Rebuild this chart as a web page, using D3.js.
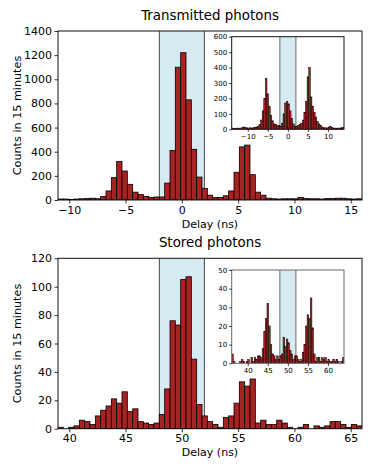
<!DOCTYPE html>
<html>
<head>
<meta charset="utf-8">
<script src="https://cdn.jsdelivr.net/npm/d3@7"></script>
<style>
body { margin: 0; background: #fff; }
svg text { font-family: "DejaVu Sans", sans-serif; fill: #000; }
</style>
</head>
<body>
<div id="chart"></div>
<script>
// histogram counts, 57 bins over the x range of each main panel
var mainBinWidth = 27 / 57;
var transBinStart = -11;
var storedBinStart = 39;
var transCounts = [8,8,5,8,10,12,15,10,30,75,185,320,240,130,65,45,30,20,25,25,140,410,1100,1220,
    830,420,190,95,40,20,20,35,75,230,440,455,210,65,40,15,10,8,10,10,10,22,12,10,10,8,12,12,15,15,10,8,10];
var storedCounts = [1,0,1,2,6,5,3,9,13,16,21,18,26,12,14,5,4,3,4,10,28,76,73,105,107,49,17,9,5,3,1,8,
    9,18,33,30,35,4,6,3,3,6,4,1,0,1,3,0,2,1,2,5,5,3,1,3,2];

// insets: finer bins over a wider range
var insetBinWidth = 0.4;
var transInsetStart = -14;
var storedInsetStart = 36;
var transInsetCounts = [8,5,5,8,5,8,10,15,12,10,8,10,8,10,12,15,20,30,60,120,200,330,230,150,90,55,
    35,30,25,25,20,40,100,170,180,165,120,70,35,20,20,25,30,40,60,110,180,340,400,210,150,110,80,50,
    35,25,15,10,10,8,15,20,12,8,8,5,8,8,10,12];
var storedInsetCounts = [5,1,0,0,0,1,2,1,0,1,2,0,3,1,3,2,4,4,3,8,17,24,32,20,10,5,4,2,4,2,4,5,14,9,
    13,11,7,5,2,4,4,2,1,2,6,10,20,26,24,35,19,5,1,3,3,1,3,2,3,1,2,1,1,2,1,2,1,0,1,3];

// detection windows (ns)
var transWindow = [-2, 2];
var storedWindow = [48, 52];

// axis limits and ticks
var transXDomain = [-11, 16], transYDomain = [0, 1400];
var storedXDomain = [39, 66], storedYDomain = [0, 120];
var transXTicks = [-10, -5, 0, 5, 10, 15];
var transYTicks = [0, 200, 400, 600, 800, 1000, 1200, 1400];
var storedXTicks = [40, 45, 50, 55, 60, 65];
var storedYTicks = [0, 20, 40, 60, 80, 100, 120];
var transInsetXDomain = [-14, 14], transInsetYDomain = [0, 600];
var storedInsetXDomain = [36, 64], storedInsetYDomain = [0, 50];
var transInsetXTicks = [-10, -5, 0, 5, 10];
var transInsetYTicks = [0, 100, 200, 300, 400, 500, 600];
var storedInsetXTicks = [40, 45, 50, 55, 60];
var storedInsetYTicks = [0, 10, 20, 30, 40, 50];

var svg = d3.select("#chart").append("svg")
    .attr("width", 374)
    .attr("height", 471);

var clipN = 0;
var fmt = function (d) { return d < 0 ? "\u2212" + Math.abs(d) : String(d); };

function panel(p) {
    var x = d3.scaleLinear().domain(p.xDomain).range([p.left, p.right]);
    var y = d3.scaleLinear().domain(p.yDomain).range([p.bottom, p.top]);
    var g = svg.append("g");
    var id = "clip" + (clipN++);

    svg.append("clipPath").attr("id", id)
        .append("rect")
        .attr("x", p.left).attr("y", p.top)
        .attr("width", p.right - p.left).attr("height", p.bottom - p.top);

    g.append("rect")
        .attr("x", p.left).attr("y", p.top)
        .attr("width", p.right - p.left).attr("height", p.bottom - p.top)
        .attr("fill", "#fff");

    // shaded window
    g.append("rect")
        .attr("x", x(p.window[0])).attr("y", p.top)
        .attr("width", x(p.window[1]) - x(p.window[0]))
        .attr("height", p.bottom - p.top)
        .attr("fill", "#d5eaf1");
    g.selectAll(".win").data(p.window).enter().append("line")
        .attr("class", "win")
        .attr("x1", function (d) { return x(d); })
        .attr("x2", function (d) { return x(d); })
        .attr("y1", p.top).attr("y2", p.bottom)
        .attr("stroke", p.winStroke)
        .attr("stroke-width", p.winWidth);

    // bars
    g.append("g").attr("clip-path", "url(#" + id + ")")
        .selectAll("rect").data(p.counts).enter().append("rect")
        .attr("x", function (d, i) { return x(p.binStart + i * p.binWidth); })
        .attr("width", function (d, i) {
            return x(p.binStart + (i + 1) * p.binWidth) - x(p.binStart + i * p.binWidth);
        })
        .attr("y", function (d) { return y(d); })
        .attr("height", function (d) { return y(0) - y(d); })
        .attr("fill", "#a82222")
        .attr("stroke", "#000")
        .attr("stroke-width", p.barStroke);

    // frame
    g.append("rect")
        .attr("x", p.left).attr("y", p.top)
        .attr("width", p.right - p.left).attr("height", p.bottom - p.top)
        .attr("fill", "none")
        .attr("stroke", p.frameStroke)
        .attr("stroke-width", p.frameWidth);

    var xa = g.append("g")
        .attr("transform", "translate(0," + p.bottom + ")")
        .call(d3.axisBottom(x).tickValues(p.xTicks).tickFormat(fmt)
            .tickSize(p.tick).tickPadding(p.pad));
    var ya = g.append("g")
        .attr("transform", "translate(" + p.left + ",0)")
        .call(d3.axisLeft(y).tickValues(p.yTicks).tickFormat(fmt)
            .tickSize(p.tick).tickPadding(p.pad));
    [xa, ya].forEach(function (a) {
        a.select(".domain").remove();
        a.selectAll("text").style("font-size", p.font + "px")
            .style("font-family", "DejaVu Sans, sans-serif");
        a.selectAll("line").attr("stroke", "#000").attr("stroke-width", 0.8);
    });
    return { x: x, y: y };
}

function mainPanel(title, top, bottom, cfg) {
    panel(Object.assign({
        left: 58, right: 362, top: top, bottom: bottom,
        binWidth: mainBinWidth, winStroke: "#444", winWidth: 1,
        barStroke: 0.8, frameStroke: "#111", frameWidth: 1,
        tick: 3.5, pad: 2.5, font: 11
    }, cfg));

    svg.append("text")
        .attr("x", 210).attr("y", top - 11.5)
        .attr("text-anchor", "middle")
        .style("font-size", "13.4px")
        .text(title);
    svg.append("text")
        .attr("x", 210).attr("y", bottom + 27.5)
        .attr("text-anchor", "middle")
        .style("font-size", "11px")
        .text("Delay (ns)");
    svg.append("text")
        .attr("transform", "translate(17.5," + ((top + bottom) / 2) + ") rotate(-90)")
        .attr("text-anchor", "middle")
        .attr("dy", "0.35em")
        .style("font-size", "11.2px")
        .text("Counts in 15 minutes");
}

function insetPanel(top, bottom, frameStroke, cfg) {
    panel(Object.assign({
        left: 231.7, right: 344, top: top, bottom: bottom,
        binWidth: insetBinWidth, winStroke: "#888", winWidth: 1.3,
        barStroke: 0.5, frameStroke: frameStroke, frameWidth: 1,
        tick: 2.5, pad: 2, font: 7
    }, cfg));
}

mainPanel("Transmitted photons", 31, 200, {
    xDomain: transXDomain, yDomain: transYDomain,
    counts: transCounts, binStart: transBinStart,
    window: transWindow, xTicks: transXTicks, yTicks: transYTicks
});
insetPanel(36.7, 129.3, "#111", {
    xDomain: transInsetXDomain, yDomain: transInsetYDomain,
    counts: transInsetCounts, binStart: transInsetStart,
    window: transWindow, xTicks: transInsetXTicks, yTicks: transInsetYTicks
});

mainPanel("Stored photons", 258.3, 428.7, {
    xDomain: storedXDomain, yDomain: storedYDomain,
    counts: storedCounts, binStart: storedBinStart,
    window: storedWindow, xTicks: storedXTicks, yTicks: storedYTicks
});
insetPanel(270, 363.3, "#666", {
    xDomain: storedInsetXDomain, yDomain: storedInsetYDomain,
    counts: storedInsetCounts, binStart: storedInsetStart,
    window: storedWindow, xTicks: storedInsetXTicks, yTicks: storedInsetYTicks
});
</script>
</body>
</html>
